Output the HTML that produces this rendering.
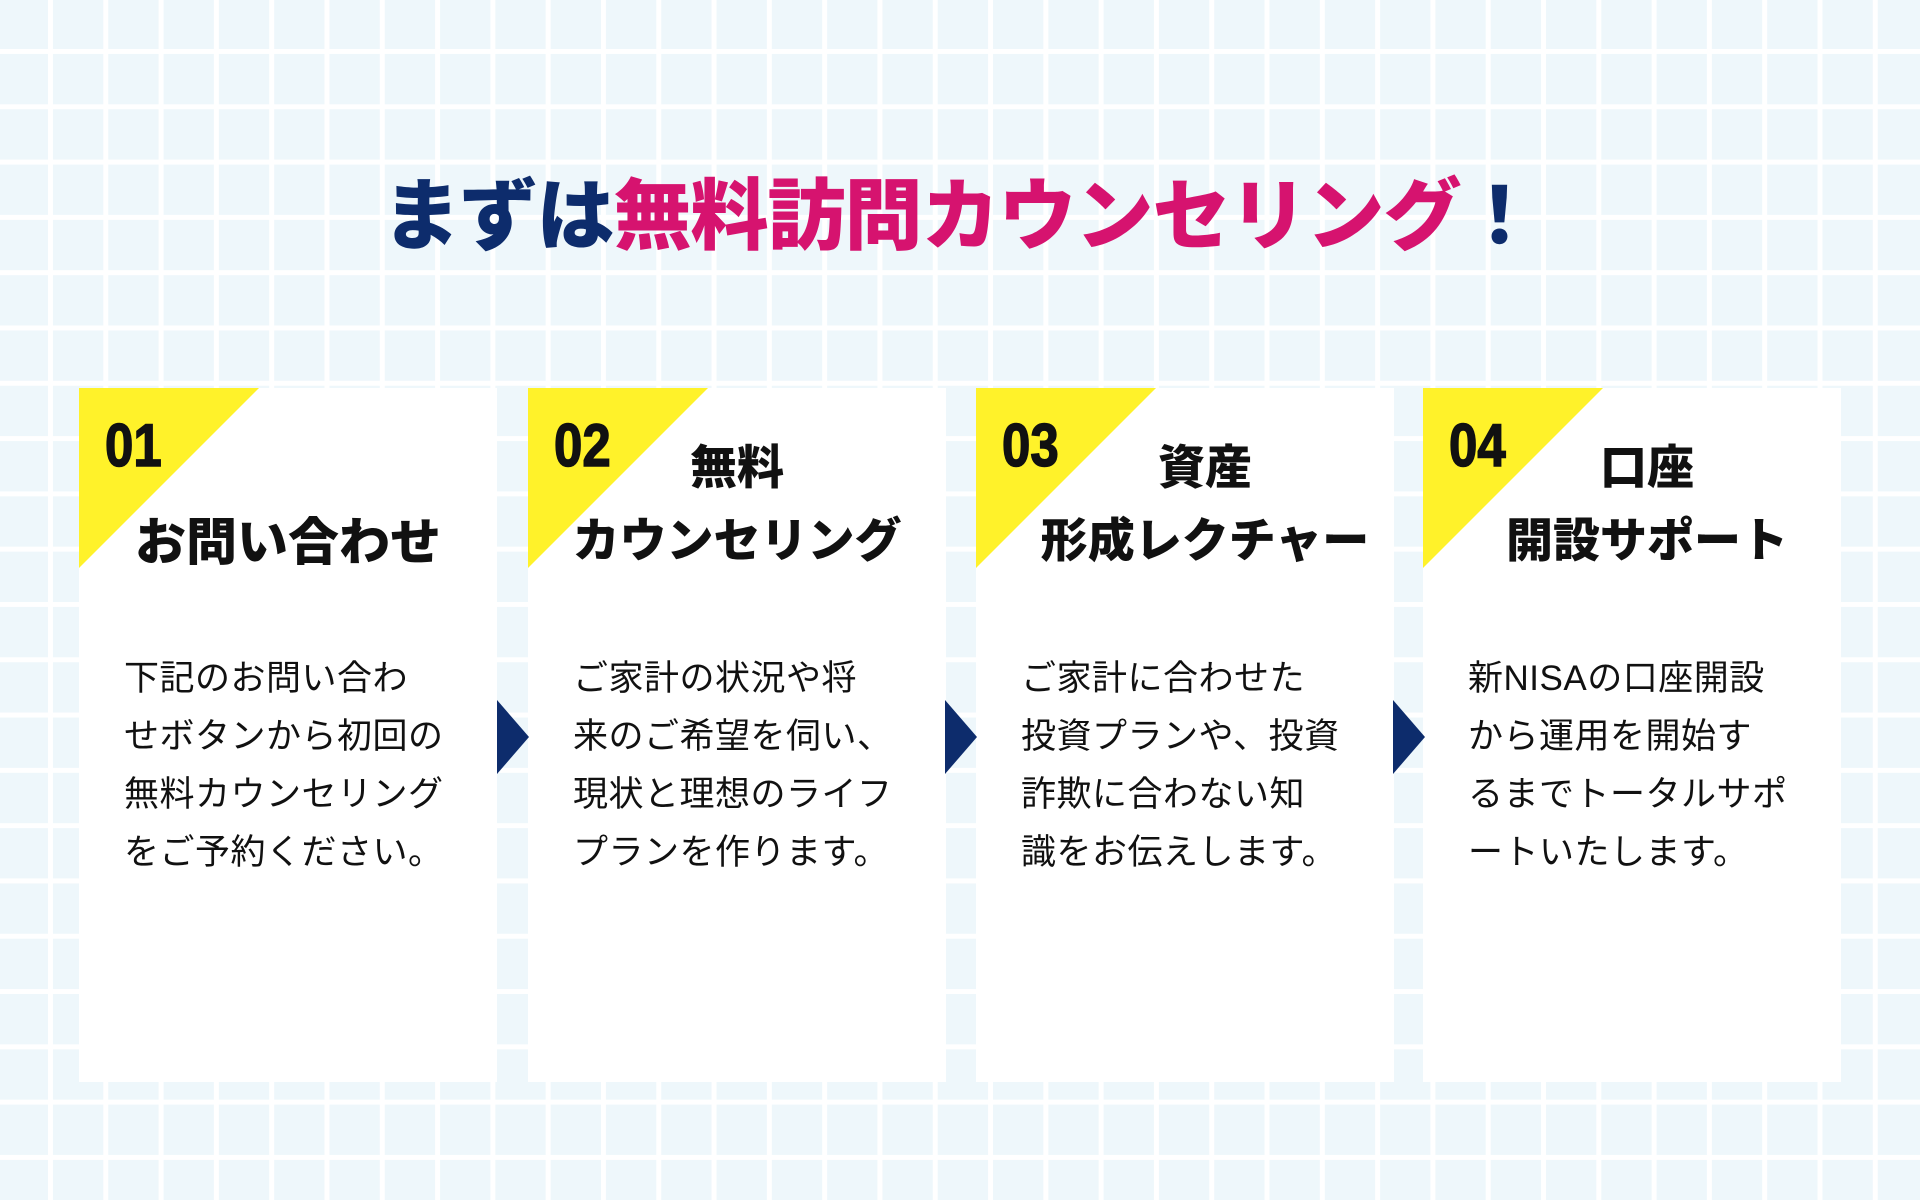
<!DOCTYPE html>
<html><head><meta charset="utf-8"><style>
html,body{margin:0;padding:0}
body{width:1920px;height:1200px;position:relative;overflow:hidden;
background-color:#eef7fb;
background-image:linear-gradient(to right,#fff 0,#fff 5px,transparent 5px),linear-gradient(to bottom,#fff 0,#fff 5px,transparent 5px);
background-size:55.3px 55.3px;background-position:48px 49px;
font-family:"Liberation Sans","Noto Sans CJK JP",sans-serif;}
.title{position:absolute;left:0;width:1920px;top:166px;text-align:center;font-size:78px;font-weight:900;color:#0d2c6c;line-height:100px;letter-spacing:-1px}
.title .p{color:#d6136f}
.card{position:absolute;top:388px;width:418px;height:694px;background:#fff;overflow:hidden}
.tri{position:absolute;left:0;top:0;width:0;height:0;border-top:180px solid #fff22a;border-right:180px solid transparent}
.num{position:absolute;left:26px;top:28px;font-family:"Liberation Sans Narrow","Liberation Sans",sans-serif;font-weight:900;font-size:60px;line-height:60px;color:#111;transform:scaleX(0.85);transform-origin:left;-webkit-text-stroke:1.5px #111}
.h{position:absolute;left:0;width:418px;text-align:center;font-weight:900;font-size:47px;line-height:73px;color:#111}
.b{position:absolute;left:45px;top:262px;width:360px;font-size:35px;line-height:58px;color:#111;letter-spacing:0.5px}
.arr{position:absolute;top:700px;width:0;height:0;border-top:37px solid transparent;border-bottom:37px solid transparent;border-left:32px solid #0d2c6c}
</style></head><body>
<div class="title">まずは<span class="p">無料訪問カウンセリング</span>！</div>

<div class="card" style="left:79px"><div class="tri"></div><div class="num">01</div>
<div class="h" style="top:118px;left:0;font-size:51px">お問い合わせ</div>
<div class="b">下記のお問い合わ<br>せボタンから初回の<br>無料カウンセリング<br>をご予約ください。</div></div>

<div class="card" style="left:528px"><div class="tri"></div><div class="num">02</div>
<div class="h" style="top:43px">無料<br>カウンセリング</div>
<div class="b">ご家計の状況や将<br>来のご希望を伺い、<br>現状と理想のライフ<br>プランを作ります。</div></div>

<div class="card" style="left:976px"><div class="tri"></div><div class="num">03</div>
<div class="h" style="top:43px;left:20px">資産<br>形成レクチャー</div>
<div class="b">ご家計に合わせた<br>投資プランや、投資<br>詐欺に合わない知<br>識をお伝えします。</div></div>

<div class="card" style="left:1423px"><div class="tri"></div><div class="num">04</div>
<div class="h" style="top:43px;left:15px">口座<br>開設サポート</div>
<div class="b">新NISAの口座開設<br>から運用を開始す<br>るまでトータルサポ<br>ートいたします。</div></div>

<div class="arr" style="left:497px"></div>
<div class="arr" style="left:945px"></div>
<div class="arr" style="left:1393px"></div>
</body></html>
